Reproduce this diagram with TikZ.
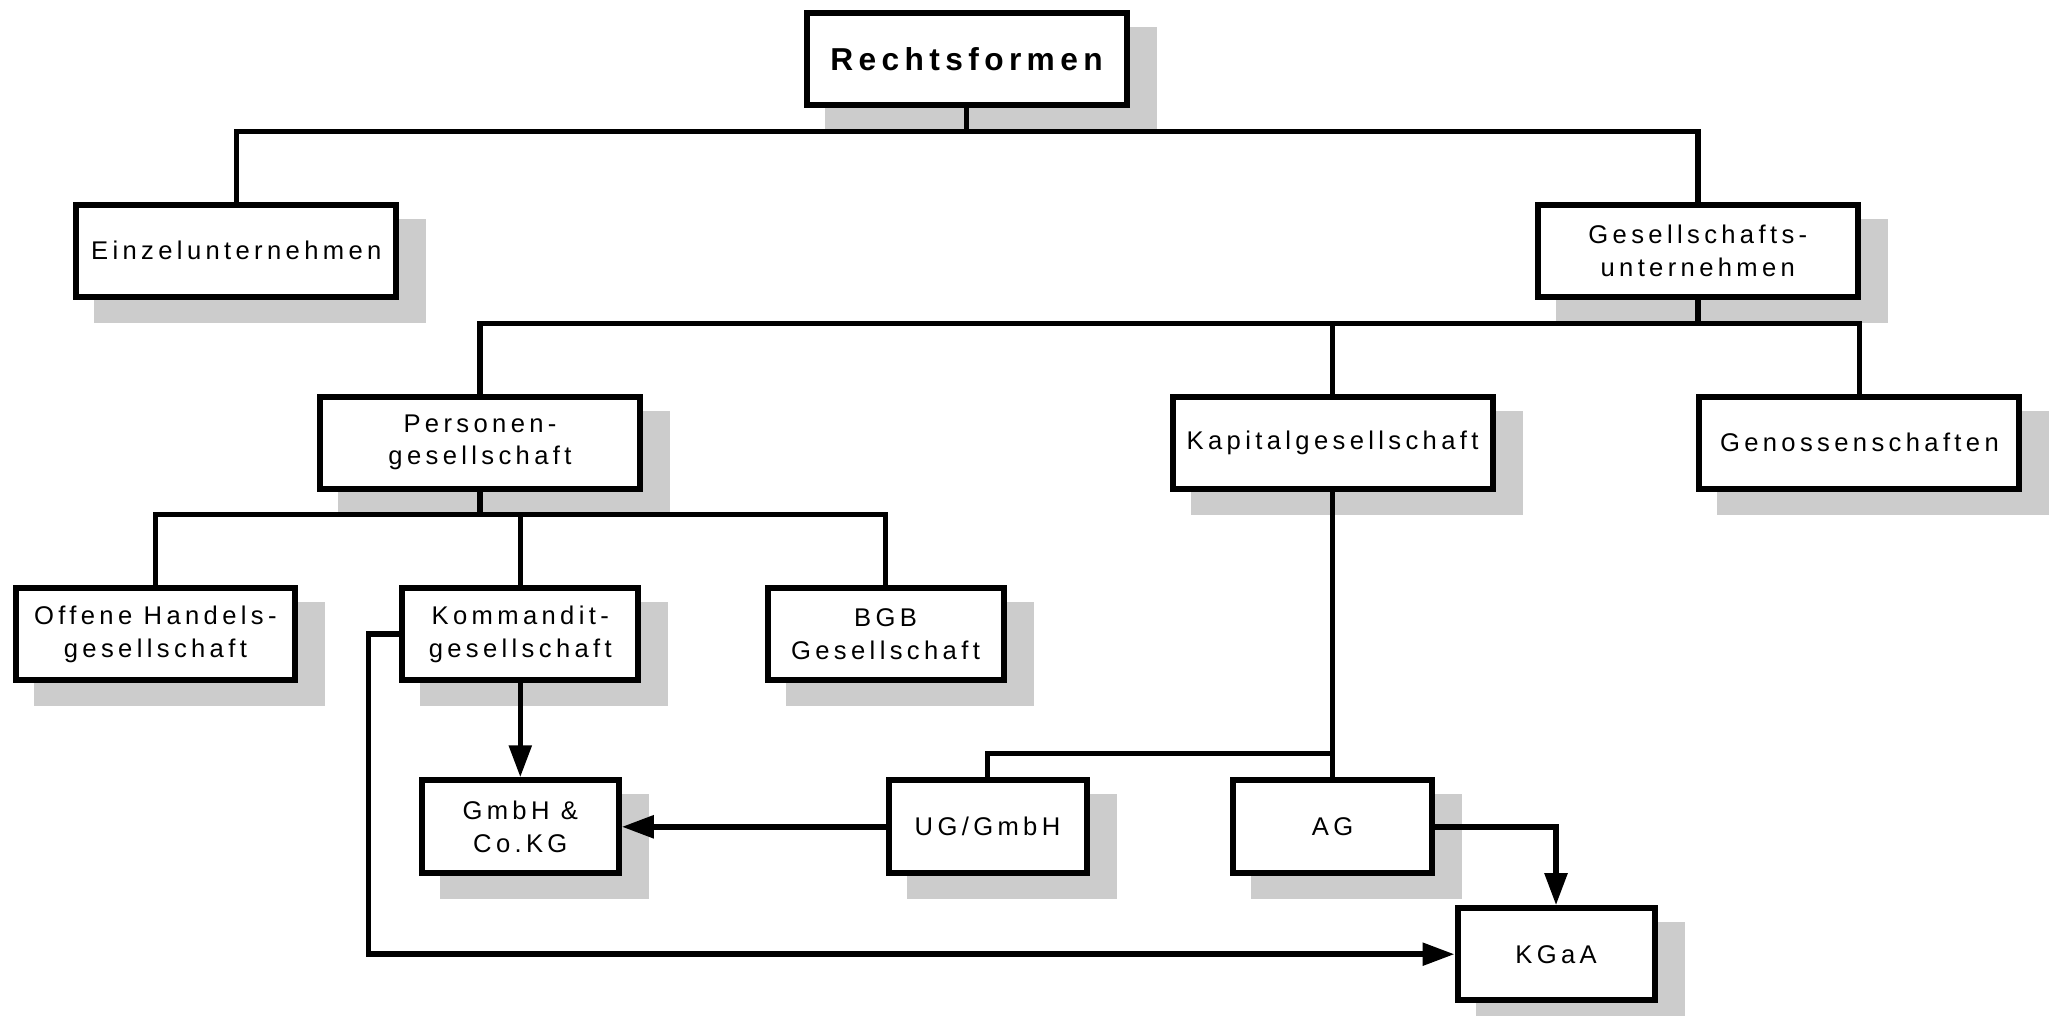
\documentclass[tikz,border=0pt]{standalone}
\usepackage{fontspec}
\setmainfont{Liberation Sans}[LetterSpace=17]
\usetikzlibrary{arrows.meta,backgrounds}
\definecolor{shadowgray}{HTML}{CCCCCC}
\begin{document}
\begin{tikzpicture}[x=1pt,y=-1pt,
  box/.style={draw, line width=6pt, fill=white, inner sep=0pt, align=center,
    font=\fontsize{25.6}{32.6}\selectfont, minimum height=92pt},
  wide/.style={box, minimum width=320pt},
  conn/.style={line width=5.5pt},
  arr/.style={conn, -{Triangle[length=32pt,width=22pt]}}
]
\useasboundingbox (0,0) rectangle (2052,1016);

\node[wide, font=\fontsize{31.7}{38}\selectfont\bfseries] (rf) at (966.5,59) {Rechtsformen};
\node[wide] (ez) at (236.3,250.8) {Einzelunternehmen};
\node[wide] (gu) at (1697.8,250.8) {Gesellschafts-\\unternehmen};
\node[wide] (pg) at (480,442.5) {Personen-\\gesellschaft};
\node[wide] (kg) at (1332.6,442.5) {Kapitalgesellschaft};
\node[wide] (ge) at (1859.4,442.5) {Genossenschaften};
\node[box, minimum width=279pt] (ohg) at (155.4,634.2) {Offene Handels-\\gesellschaft};
\node[box, minimum width=236pt] (kom) at (520.3,634.2) {Kommandit-\\gesellschaft};
\node[box, minimum width=236pt] (bgb) at (885.5,634.2) {BGB\\Gesellschaft};
\node[box, minimum width=197pt, minimum height=93pt] (gco) at (520.3,826.8) {GmbH \&\\Co.KG};
\node[box, minimum width=198pt, minimum height=93pt] (ug) at (987.5,826.8) {UG/GmbH};
\node[box, minimum width=199pt, minimum height=93pt] (ag) at (1332.6,826.8) {AG};
\node[box, minimum width=197pt] (kgaa) at (1556,954.2) {KGaA};

\begin{scope}[on background layer]
\foreach \n in {rf,ez,gu,pg,kg,ge,ohg,kom,bgb,gco,ug,ag,kgaa}{
  \fill[shadowgray] ([xshift=21pt,yshift=-17pt]\n.north west) rectangle ([xshift=27pt,yshift=-23pt]\n.south east);
}
\end{scope}

\coordinate (b1) at (966.5,131.7);
\draw[conn] (rf.south) -- (b1);
\draw[conn] (ez.north) |- (b1) -| (gu.north);

\coordinate (b2) at (1697.8,323.3);
\draw[conn] (gu.south) -- (b2);
\draw[conn] (pg.north) |- (b2) -| (ge.north);
\draw[conn] (kg.north) -- (kg.north |- b2);

\coordinate (b3) at (480,514.7);
\draw[conn] (pg.south) -- (b3);
\draw[conn] (ohg.north) |- (b3) -| (bgb.north);
\draw[conn] (kom.north) -- (kom.north |- b3);

\draw[arr] (kom.south) -- (gco.north);
\draw[conn] (kg.south) -- (ag.north);
\coordinate (b4) at (1332.6,753.7);
\draw[conn] (ug.north) |- (b4);
\draw[arr] (ug.west) -- (gco.east);
\draw[arr] (ag.east) -| (kgaa.north);
\draw[arr] (kom.west) -- ++(-31,0) |- (kgaa.west);
\end{tikzpicture}
\end{document}
